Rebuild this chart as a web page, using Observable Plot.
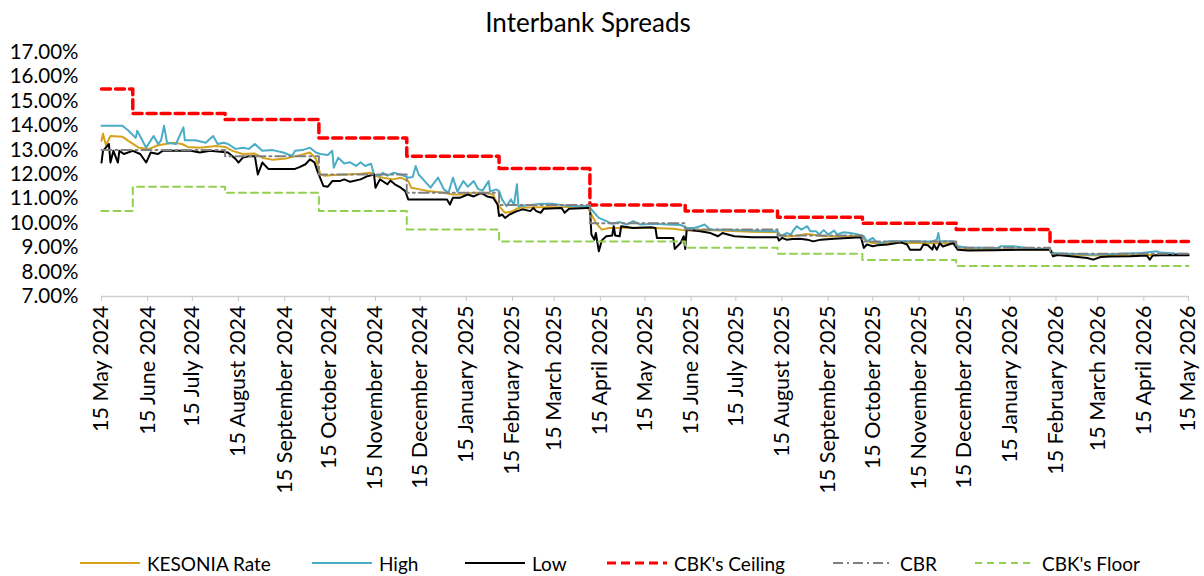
<!DOCTYPE html>
<html><head><meta charset="utf-8">
<script src="https://cdn.jsdelivr.net/npm/d3@7"></script>
<script src="https://cdn.jsdelivr.net/npm/@observablehq/plot@0.6"></script>
<style>
body{margin:0;background:#fff;font-family:Lato,sans-serif;color:#000;}
#wrap{position:relative;width:1204px;height:576px;overflow:hidden;}
#title{position:absolute;top:6px;left:0;width:1176px;text-align:center;font-size:26px;}
#chart{position:absolute;top:40px;left:0;}
#legend{position:absolute;top:549px;left:0;width:1204px;height:28px;}
.item{position:absolute;top:0;display:flex;align-items:center;font-size:19px;height:28px;white-space:nowrap;}
.item svg{margin-right:7px;}
</style></head><body>
<div id="wrap">
<div id="title">Interbank Spreads</div>
<div id="chart"></div>
<div id="legend"></div>
</div>
<script>
const kesonia = [["2024-05-15",13.38],["2024-05-16",13.67],["2024-05-18",13.2],["2024-05-21",13.58],["2024-05-29",13.55],["2024-06-02",13.38],["2024-06-09",13.1],["2024-06-16",13.05],["2024-06-22",13.2],["2024-07-02",13.3],["2024-07-08",13.25],["2024-07-12",13.13],["2024-07-20",13.1],["2024-07-31",13.17],["2024-08-06",13.13],["2024-08-11",12.97],["2024-08-18",12.84],["2024-08-26",12.86],["2024-08-31",12.69],["2024-09-07",12.6],["2024-09-16",12.66],["2024-09-26",12.8],["2024-10-02",12.9],["2024-10-06",12.64],["2024-10-09",12.0],["2024-10-12",11.95],["2024-10-18",11.98],["2024-10-27",12.0],["2024-11-05",12.03],["2024-11-12",12.07],["2024-11-15",11.94],["2024-11-20",11.87],["2024-11-27",11.8],["2024-12-02",11.87],["2024-12-07",11.73],["2024-12-09",11.46],["2024-12-14",11.4],["2024-12-20",11.32],["2024-12-31",11.25],["2025-01-06",11.18],["2025-01-13",11.18],["2025-01-20",11.25],["2025-01-27",11.25],["2025-02-02",11.18],["2025-02-04",10.9],["2025-02-06",10.7],["2025-02-10",10.43],["2025-02-15",10.5],["2025-02-19",10.63],["2025-03-01",10.66],["2025-03-23",10.67],["2025-04-06",10.7],["2025-04-09",10.36],["2025-04-12",10.02],["2025-04-16",9.74],["2025-04-21",9.81],["2025-05-06",9.82],["2025-05-21",9.81],["2025-06-03",9.78],["2025-06-12",9.7],["2025-06-21",9.74],["2025-07-05",9.7],["2025-07-25",9.65],["2025-08-12",9.63],["2025-08-15",9.47],["2025-08-22",9.47],["2025-09-01",9.56],["2025-09-12",9.47],["2025-09-23",9.47],["2025-10-07",9.47],["2025-10-11",9.26],["2025-10-15",9.19],["2025-11-03",9.2],["2025-11-23",9.18],["2025-12-09",9.18],["2025-12-13",8.95],["2026-01-09",8.93],["2026-02-11",8.92],["2026-02-14",8.72],["2026-03-17",8.68],["2026-04-20",8.7],["2026-05-15",8.7]];

const high = [["2024-05-15",14.0],["2024-05-29",14.0],["2024-06-02",13.8],["2024-06-07",13.5],["2024-06-08",13.79],["2024-06-14",13.1],["2024-06-19",13.58],["2024-06-22",13.25],["2024-06-24",13.4],["2024-06-26",14.0],["2024-06-28",13.3],["2024-07-04",13.25],["2024-07-09",13.93],["2024-07-10",13.4],["2024-07-17",13.4],["2024-07-24",13.3],["2024-07-29",13.58],["2024-08-01",13.25],["2024-08-05",13.3],["2024-08-08",13.25],["2024-08-13",13.05],["2024-08-18",13.1],["2024-08-22",13.05],["2024-08-26",13.25],["2024-08-31",12.97],["2024-09-07",13.0],["2024-09-14",12.9],["2024-09-20",12.76],["2024-09-22",12.97],["2024-09-27",13.0],["2024-10-02",13.1],["2024-10-06",12.9],["2024-10-09",12.84],["2024-10-14",12.8],["2024-10-17",12.97],["2024-10-18",12.28],["2024-10-21",12.69],["2024-10-25",12.45],["2024-10-29",12.5],["2024-11-02",12.35],["2024-11-05",12.5],["2024-11-08",12.35],["2024-11-12",12.44],["2024-11-14",12.0],["2024-11-18",11.95],["2024-11-20",12.07],["2024-11-23",11.95],["2024-11-27",12.07],["2024-12-02",12.0],["2024-12-07",11.87],["2024-12-10",11.9],["2024-12-12",12.35],["2024-12-14",12.0],["2024-12-17",11.8],["2024-12-22",11.46],["2024-12-27",11.87],["2024-12-31",11.39],["2025-01-03",11.25],["2025-01-06",11.87],["2025-01-09",11.3],["2025-01-13",11.73],["2025-01-16",11.5],["2025-01-20",11.73],["2025-01-23",11.4],["2025-01-26",11.35],["2025-01-30",11.73],["2025-01-31",11.3],["2025-02-04",11.39],["2025-02-06",11.32],["2025-02-08",10.98],["2025-02-11",10.7],["2025-02-14",10.98],["2025-02-16",10.75],["2025-02-18",11.6],["2025-02-19",10.7],["2025-03-07",10.8],["2025-03-14",10.8],["2025-03-23",10.72],["2025-04-01",10.7],["2025-04-07",10.72],["2025-04-11",10.43],["2025-04-14",10.22],["2025-04-19",10.09],["2025-04-23",9.98],["2025-04-28",10.05],["2025-05-03",9.95],["2025-05-07",10.09],["2025-05-12",9.95],["2025-05-21",9.98],["2025-05-30",9.95],["2025-06-08",9.93],["2025-06-12",9.81],["2025-06-17",9.81],["2025-06-21",9.88],["2025-06-24",9.95],["2025-06-28",9.74],["2025-07-05",9.74],["2025-07-25",9.7],["2025-08-12",9.67],["2025-08-14",9.47],["2025-08-18",9.6],["2025-08-21",9.54],["2025-08-23",9.74],["2025-08-25",9.88],["2025-08-28",9.74],["2025-09-01",9.88],["2025-09-03",9.67],["2025-09-07",9.67],["2025-09-09",9.54],["2025-09-12",9.72],["2025-09-15",9.54],["2025-09-19",9.7],["2025-09-21",9.54],["2025-09-25",9.63],["2025-09-30",9.6],["2025-10-05",9.54],["2025-10-09",9.47],["2025-10-11",9.26],["2025-10-15",9.4],["2025-10-17",9.26],["2025-10-20",9.19],["2025-10-25",9.26],["2025-11-03",9.26],["2025-11-14",9.26],["2025-11-23",9.24],["2025-11-27",9.33],["2025-11-28",9.6],["2025-11-29",9.26],["2025-12-08",9.26],["2025-12-11",9.06],["2025-12-18",9.0],["2025-12-26",9.0],["2026-01-07",8.99],["2026-01-09",9.06],["2026-01-17",9.06],["2026-01-29",8.97],["2026-02-11",8.95],["2026-02-13",8.78],["2026-02-24",8.75],["2026-03-08",8.72],["2026-03-17",8.72],["2026-03-30",8.75],["2026-04-13",8.78],["2026-04-24",8.85],["2026-04-26",8.8],["2026-05-06",8.76],["2026-05-15",8.74]];

const low = [["2024-05-15",12.49],["2024-05-16",12.97],["2024-05-20",13.25],["2024-05-21",12.49],["2024-05-23",12.97],["2024-05-26",12.49],["2024-05-27",12.97],["2024-05-30",12.84],["2024-06-05",12.97],["2024-06-10",12.84],["2024-06-14",12.49],["2024-06-17",12.9],["2024-06-22",12.84],["2024-06-25",12.97],["2024-07-14",12.97],["2024-07-20",12.9],["2024-07-27",12.97],["2024-08-08",12.9],["2024-08-13",12.64],["2024-08-15",12.49],["2024-08-18",12.7],["2024-08-22",12.75],["2024-08-26",12.75],["2024-08-28",12.0],["2024-08-31",12.49],["2024-09-04",12.23],["2024-09-22",12.23],["2024-09-25",12.3],["2024-09-29",12.42],["2024-10-02",12.62],["2024-10-05",12.5],["2024-10-07",12.14],["2024-10-11",11.53],["2024-10-14",11.5],["2024-10-17",11.73],["2024-10-22",11.73],["2024-10-25",11.8],["2024-10-29",11.7],["2024-11-05",11.8],["2024-11-10",11.94],["2024-11-14",12.0],["2024-11-15",11.46],["2024-11-18",11.8],["2024-11-23",11.6],["2024-11-25",11.75],["2024-11-28",11.6],["2024-12-02",11.46],["2024-12-05",11.32],["2024-12-07",10.98],["2025-01-02",10.98],["2025-01-04",10.77],["2025-01-06",11.05],["2025-01-11",11.05],["2025-01-16",11.18],["2025-01-20",11.1],["2025-01-25",11.25],["2025-01-29",11.1],["2025-02-02",11.05],["2025-02-05",10.77],["2025-02-06",10.3],["2025-02-08",10.36],["2025-02-10",10.22],["2025-02-13",10.36],["2025-02-18",10.5],["2025-02-22",10.57],["2025-02-27",10.5],["2025-03-01",10.63],["2025-03-03",10.5],["2025-03-06",10.43],["2025-03-08",10.6],["2025-03-20",10.63],["2025-03-22",10.43],["2025-03-25",10.6],["2025-04-06",10.63],["2025-04-08",10.63],["2025-04-09",9.54],["2025-04-11",9.33],["2025-04-12",9.6],["2025-04-14",8.85],["2025-04-16",9.3],["2025-04-19",9.47],["2025-04-23",9.5],["2025-04-24",9.88],["2025-04-25",9.5],["2025-04-28",9.47],["2025-04-29",9.88],["2025-05-07",9.81],["2025-05-19",9.84],["2025-05-22",9.81],["2025-05-23",9.4],["2025-06-03",9.4],["2025-06-04",8.95],["2025-06-08",9.2],["2025-06-10",9.47],["2025-06-11",8.95],["2025-06-12",9.74],["2025-06-21",9.67],["2025-06-28",9.6],["2025-07-03",9.47],["2025-07-06",9.6],["2025-07-09",9.55],["2025-07-14",9.47],["2025-07-26",9.43],["2025-08-12",9.43],["2025-08-13",9.29],["2025-08-15",9.4],["2025-08-18",9.33],["2025-08-22",9.36],["2025-08-27",9.37],["2025-09-01",9.33],["2025-09-05",9.26],["2025-09-10",9.33],["2025-09-19",9.37],["2025-09-28",9.4],["2025-10-07",9.43],["2025-10-09",8.99],["2025-10-11",9.13],["2025-10-15",9.06],["2025-10-18",9.1],["2025-10-25",9.13],["2025-11-03",9.22],["2025-11-07",9.13],["2025-11-09",8.92],["2025-11-16",8.92],["2025-11-18",9.13],["2025-11-21",9.1],["2025-11-24",8.92],["2025-11-25",9.13],["2025-11-27",8.92],["2025-11-29",9.19],["2025-12-01",9.05],["2025-12-08",9.19],["2025-12-11",8.92],["2025-12-18",8.89],["2026-01-04",8.9],["2026-01-31",8.92],["2026-02-11",8.92],["2026-02-13",8.65],["2026-02-16",8.7],["2026-02-23",8.66],["2026-03-08",8.58],["2026-03-12",8.51],["2026-03-17",8.62],["2026-03-23",8.64],["2026-04-06",8.65],["2026-04-17",8.68],["2026-04-19",8.51],["2026-04-21",8.68],["2026-05-03",8.7],["2026-05-15",8.69]];

const ceiling = [["2024-05-15",15.5],["2024-06-05",14.5],["2024-08-06",14.25],["2024-10-08",13.5],["2024-12-06",12.75],["2025-02-06",12.25],["2025-04-08",10.75],["2025-06-11",10.5],["2025-08-12",10.25],["2025-10-08",10.0],["2025-12-10",9.75],["2026-02-11",9.25],["2026-05-15",9.25]];
const cbr = [["2024-05-15",13.0],["2024-08-06",12.75],["2024-10-08",12.0],["2024-12-06",11.25],["2025-02-06",10.75],["2025-04-08",10.0],["2025-06-11",9.75],["2025-08-12",9.5],["2025-10-08",9.25],["2025-12-10",9.0],["2026-02-11",8.75],["2026-05-15",8.75]];
const floor = [["2024-05-15",10.5],["2024-06-05",11.5],["2024-08-06",11.25],["2024-10-08",10.5],["2024-12-06",9.75],["2025-02-06",9.25],["2025-06-11",9.0],["2025-08-12",8.75],["2025-10-08",8.5],["2025-12-10",8.25],["2026-05-15",8.25]];

const yTicks = [7,8,9,10,11,12,13,14,15,16,17];
const xStart = "2024-05-15", xEnd = "2026-05-15";
const seriesNames = ["KESONIA Rate","High","Low","CBK's Ceiling","CBR","CBK's Floor"];
const seriesColors = ["#D4A21C","#4BACC6","#000000","#FF0000","#808080","#92D050"];

const parse = d3.utcParse("%Y-%m-%d");
const rows = arr => arr.map(([d,v]) => ({date: parse(d), value: v}));
const tickDates = d3.utcMonths(parse("2024-05-01"), parse("2026-05-02")).map(d => d3.utcDay.offset(d, 14));

const styles = [
  {stroke: seriesColors[0], strokeWidth: 2},
  {stroke: seriesColors[1], strokeWidth: 2},
  {stroke: seriesColors[2], strokeWidth: 2},
  {stroke: seriesColors[3], strokeWidth: 3.5, strokeDasharray: "9,5", curve: "step-after"},
  {stroke: seriesColors[4], strokeWidth: 2, strokeDasharray: "10,4,2,4", curve: "step-after"},
  {stroke: seriesColors[5], strokeWidth: 2, strokeDasharray: "7,5", curve: "step-after"}
];
const datasets = [kesonia, high, low, ceiling, cbr, floor];

const chart = Plot.plot({
  width: 1204, height: 500,
  marginLeft: 101, marginRight: 16, marginTop: 12, marginBottom: 244,
  style: {fontFamily: "Lato, sans-serif", fontSize: "20px", color: "#000", background: "#fff"},
  x: {type: "utc", domain: [parse(xStart), parse(xEnd)]},
  y: {domain: [7, 17]},
  marks: [
    Plot.ruleY([7], {stroke: "#d0d0d0", strokeWidth: 1.5}),
    Plot.axisX({ticks: tickDates, tickFormat: d3.utcFormat("%-d %B %Y"), tickRotate: -90, tickSize: 5, tickPadding: 4, stroke: "#c8c8c8", fontSize: 21.5, label: null}),
    Plot.axisY({ticks: yTicks, tickFormat: d => d.toFixed(2) + "%", tickSize: 0, tickPadding: 23, fontSize: 20.5, label: null}),
    ...datasets.map((ds, i) => Plot.line(rows(ds), {x: "date", y: "value", ...styles[i]}))
  ]
});
document.getElementById("chart").appendChild(chart);

const legendLefts = [80, 312, 465, 607, 833, 975];
const legend = document.getElementById("legend");
seriesNames.forEach((name, i) => {
  const s = styles[i];
  const div = document.createElement("div");
  div.className = "item";
  div.style.left = legendLefts[i] + "px";
  div.innerHTML = `<svg width="60" height="10"><line x1="0" x2="60" y1="5" y2="5" stroke="${s.stroke}" stroke-width="${Math.min(s.strokeWidth,3)}" ${s.strokeDasharray ? `stroke-dasharray="${s.strokeDasharray}"` : ""}/></svg><span>${name}</span>`;
  legend.appendChild(div);
});
</script>
</body></html>
